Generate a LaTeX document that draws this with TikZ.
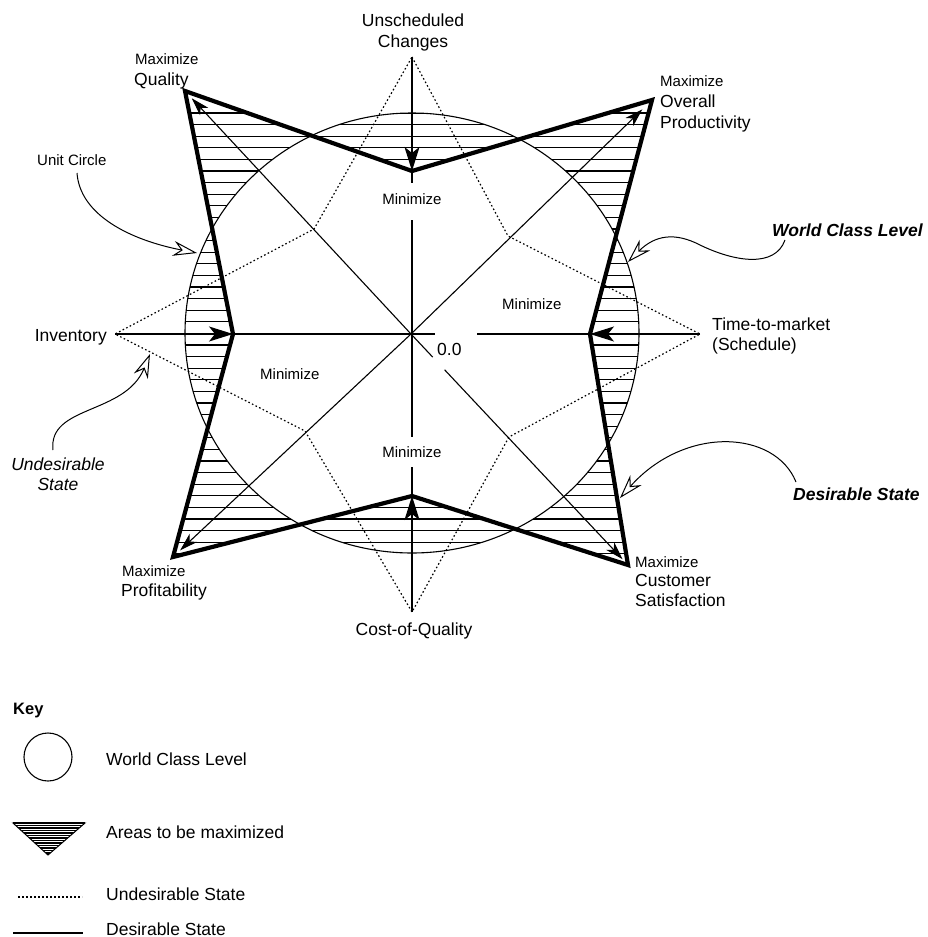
\documentclass[tikz,border=0pt]{standalone}
\usepackage{fontspec}
\setmainfont{Liberation Sans}
\usetikzlibrary{arrows.meta,calc}

\begin{document}
\begin{tikzpicture}[x=1pt,y=-1pt,
  big/.style={font=\fontsize{17.5}{21}\selectfont, inner sep=0pt},
  small/.style={font=\fontsize{15}{18}\selectfont, inner sep=0pt},
  callout/.style={font=\fontsize{17.5}{21}\selectfont\bfseries\itshape, inner sep=0pt},
  note/.style={font=\fontsize{17.5}{21}\selectfont\itshape, inner sep=0pt},
  keyhead/.style={font=\fontsize{16.5}{20}\selectfont\bfseries, inner sep=0pt},
  rim/.style={line width=1.1pt},
  thinaxis/.style={line width=1.1pt},
  undesired/.style={line width=1.2pt, dash pattern=on 1.6pt off 2.4pt},
  desired/.style={line width=4.2pt, line join=miter},
  axisarrow/.style={-{Stealth[length=24pt,width=15pt,inset=6pt]}},
  diagarrow/.style={-{Stealth[length=18pt,width=11pt,inset=5pt]}},
  pointer/.style={line width=1pt, -{Stealth[length=24pt,width=15pt,inset=8pt,fill=white]}},
  hatchline/.style={line width=1.3pt},
  keyhatchline/.style={line width=1.4pt},
]
\useasboundingbox (0,0) rectangle (928,937);

% ---- reference points -------------------------------------------------
\coordinate (O)   at (411,334);   % origin 0.0
\coordinate (Ctr) at (412,333);   % centre of the unit circle
% outer (undesirable) axis points
\coordinate (U)   at (412,57);
\coordinate (Tm)  at (700,334);
\coordinate (Cq)  at (412,612);
\coordinate (Inv) at (115,334);
% corners of the desirable-state star
\coordinate (Qc)  at (185,91);
\coordinate (Pc)  at (652,100);
\coordinate (Cc)  at (628,565);
\coordinate (Fc)  at (173,557);
\coordinate (Tin) at (412,171);
\coordinate (Rin) at (590,334);
\coordinate (Bin) at (412,496);
\coordinate (Lin) at (233,334);
% inner points of the undesirable-state star
\coordinate (DQ)  at (314,229);
\coordinate (DP)  at (508,236);
\coordinate (DF)  at (305,431);
\coordinate (DC)  at (509,437);
% gaps left for the labels on the axes
\coordinate (TgapA) at (412,183);
\coordinate (TgapB) at (412,220);
\coordinate (BgapA) at (412,437);
\coordinate (BgapB) at (412,467);
\coordinate (HgapA) at (435,334);
\coordinate (HgapB) at (477,334);
\coordinate (DgapA) at ($(O)!0.10!(Cc)$);
\coordinate (DgapB) at ($(O)!0.155!(Cc)$);
% tips of the diagonal arrows
\coordinate (Qt) at ($(O)!0.97!(Qc)$);
\coordinate (Pt) at ($(O)!0.96!(Pc)$);
\coordinate (Ft) at ($(O)!0.97!(Fc)$);
\coordinate (Ct) at ($(O)!0.975!(Cc)$);

% ---- areas to be maximized: horizontal hatching between circle and star --
\begin{scope}[even odd rule]
  \clip (Ctr) ellipse [x radius=227pt, y radius=220pt]
    (Qc) -- (Tin) -- (Pc) -- (Rin) -- (Cc) -- (Bin) -- (Fc) -- (Lin) -- cycle;
  \foreach \k in {0,...,38}
    \draw[hatchline] (150,{113+11.6*\k}) -- (690,{113+11.6*\k});
\end{scope}

% ---- unit circle --------------------------------------------------------
\draw[rim] (Ctr) ellipse [x radius=227pt, y radius=220pt];

% ---- undesirable state --------------------------------------------------
\draw[undesired] (U) -- (DP) -- (Tm) -- (DC) -- (Cq) -- (DF) -- (Inv) -- (DQ) -- cycle;

% ---- axes to be minimized ------------------------------------------------
\draw[thinaxis, axisarrow] (U) -- (Tin);
\draw[thinaxis] (Tin) -- (TgapA);
\draw[thinaxis] (TgapB) -- (BgapA);
\draw[thinaxis] (BgapB) -- (Bin);
\draw[thinaxis, axisarrow] (Cq) -- (Bin);
\draw[thinaxis, axisarrow] (Inv) -- (Lin);
\draw[thinaxis] (Lin) -- (HgapA);
\draw[thinaxis] (HgapB) -- (Rin);
\draw[thinaxis, axisarrow] (Tm) -- (Rin);

% ---- axes to be maximized -----------------------------------------------
\draw[thinaxis, diagarrow] (O) -- (Qt);
\draw[thinaxis, diagarrow] (O) -- (Pt);
\draw[thinaxis, diagarrow] (O) -- (Ft);
\draw[thinaxis] (O) -- (DgapA);
\draw[thinaxis, diagarrow] (DgapB) -- (Ct);

% ---- desirable state ------------------------------------------------------
\draw[desired] (Qc) -- (Tin) -- (Pc) -- (Rin) -- (Cc) -- (Bin) -- (Fc) -- (Lin) -- cycle;

% ---- axis labels ----------------------------------------------------------
\node[big, anchor=base] (unsch) at (413,26.7) {Unscheduled};
\node[big, anchor=base] (chg) at (413,47.3) {Changes};
\node[small, anchor=base west] (maxQ) at (135,64.5) {Maximize};
\node[big, anchor=base west] (lblQ) at (134,85) {Quality};
\node[small, anchor=base west] (maxP) at (660,86.7) {Maximize};
\node[big, anchor=base west] (lblP1) at (660,107.3) {Overall};
\node[big, anchor=base west] (lblP2) at (660,128.3) {Productivity};
\node[big, anchor=base east] (inv) at (107,341.7) {Inventory};
\node[big, anchor=base west] (tm1) at (712,330.7) {Time-to-market};
\node[big, anchor=base west] (tm2) at (712,350.7) {(Schedule)};
\node[small, anchor=base west] (maxF) at (122,576.7) {Maximize};
\node[big, anchor=base west] (lblF) at (121,596.7) {Profitability};
\node[small, anchor=base west] (maxC) at (635,567.3) {Maximize};
\node[big, anchor=base west] (lblC1) at (635,586.7) {Customer};
\node[big, anchor=base west] (lblC2) at (635,606.7) {Satisfaction};
\node[big, anchor=base] (cq) at (414,635) {Cost-of-Quality};
\node[small, anchor=base] (minT) at (412,204) {Minimize};
\node[small, anchor=base] (minB) at (412,457.3) {Minimize};
\node[small, anchor=base west] (minL) at (260,379) {Minimize};
\node[small, anchor=base west] (minR) at (502,309) {Minimize};
\node[big, anchor=base west] (zero) at (437,355) {0.0};

% ---- callouts ---------------------------------------------------------------
\node[small, anchor=base west] (unit) at (37,165) {Unit Circle};
\node[callout, anchor=base west] (wcl) at (772,236) {World Class Level};
\node[note, anchor=base] (und1) at (58,470.7) {Undesirable};
\node[note, anchor=base] (und2) at (58,490.7) {State};
\node[callout, anchor=base west] (des) at (793,500) {Desirable State};

\coordinate (ucS) at (77,173);   \coordinate (ucT) at (197,253);
\coordinate (wcS) at (785,240);  \coordinate (wcM) at (700,245);  \coordinate (wcT) at (628,262);
\coordinate (usS) at (53,450);   \coordinate (usT) at (150,354);
\coordinate (dsS) at (796,482);  \coordinate (dsT) at (620,498);

\draw[pointer] (ucS) .. controls (80,215) and (130,240) .. (ucT);
\draw[pointer] (wcS) .. controls (775,268) and (735,262) .. (wcM)
               .. controls (675,232) and (655,235) .. (wcT);
\draw[pointer] (usS) .. controls (48,405) and (125,415) .. (usT);
\draw[pointer] (dsS) .. controls (775,430) and (685,425) .. (dsT);

% ---- key --------------------------------------------------------------------
\node[keyhead, anchor=base west] (key) at (13,714) {Key};
\coordinate (kc) at (48,757);
\draw[rim] (kc) circle [radius=24pt];
\node[big, anchor=base west] (k1) at (106,765) {World Class Level};

\coordinate (ka) at (13,823); \coordinate (kb) at (85,823); \coordinate (kd) at (48,855);
\begin{scope}
  \clip (ka) -- (kb) -- (kd) -- cycle;
  \foreach \k in {0,...,14}
    \draw[keyhatchline] (10,{823+2.5*\k}) -- (90,{823+2.5*\k});
\end{scope}
\draw[line width=1pt] (ka) -- (kb) -- (kd) -- cycle;
\draw[line width=2pt] (ka) -- (kb);
\node[big, anchor=base west] (k2) at (106,838.3) {Areas to be maximized};

\coordinate (k3a) at (18,897); \coordinate (k3b) at (82,897);
\draw[undesired] (k3a) -- (k3b);
\node[big, anchor=base west] (k3) at (106,900) {Undesirable State};

\coordinate (k4a) at (13,933); \coordinate (k4b) at (83,933);
\draw[thinaxis] (k4a) -- (k4b);
\node[big, anchor=base west] (k4) at (106,935) {Desirable State};
\end{tikzpicture}
\end{document}
